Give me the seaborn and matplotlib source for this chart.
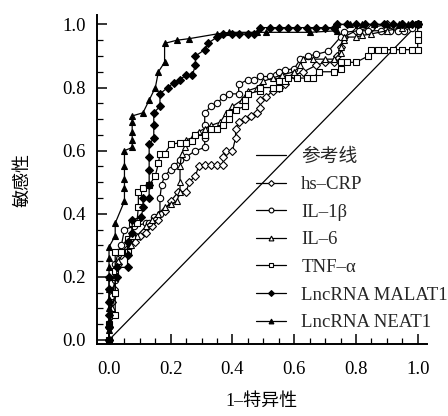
import pandas as pd
import seaborn as sns
import matplotlib.pyplot as plt
from matplotlib.ticker import MultipleLocator

# ---------------- datos ----------------
ref_x = [0.0, 1.0]
ref_y = [0.0, 1.0]

crp_x = [0, 0, 0.005, 0.01, 0.015, 0.02, 0.03, 0.04, 0.06, 0.085, 0.1, 0.12, 0.14, 0.16, 0.18, 0.2,
         0.225, 0.25, 0.26, 0.28, 0.29, 0.31, 0.33, 0.35, 0.37, 0.37, 0.38, 0.40, 0.41, 0.41, 0.42,
         0.44, 0.46, 0.48, 0.49, 0.49, 0.51, 0.53, 0.55, 0.57, 0.6, 0.63, 0.67, 0.70, 0.73, 0.74,
         0.75, 0.76, 0.8, 0.85, 0.9, 0.95, 1.0]
crp_y = [0, 0.04, 0.08, 0.12, 0.16, 0.2, 0.24, 0.27, 0.29, 0.31, 0.33, 0.34, 0.36, 0.38, 0.41, 0.44,
         0.47, 0.47, 0.5, 0.52, 0.55, 0.555, 0.555, 0.555, 0.555, 0.58, 0.6, 0.60, 0.64, 0.67, 0.69,
         0.70, 0.71, 0.72, 0.735, 0.76, 0.77, 0.79, 0.80, 0.81, 0.84, 0.85, 0.87, 0.88, 0.88, 0.90,
         0.93, 0.96, 0.98, 0.99, 1.0, 1.0, 1.0]

il1b_x = [0, 0, 0.005, 0.01, 0.02, 0.02, 0.03, 0.04, 0.05, 0.08, 0.12, 0.13, 0.145, 0.165, 0.165,
          0.17, 0.18, 0.2, 0.21, 0.23, 0.25, 0.28, 0.31, 0.31, 0.31, 0.31, 0.33, 0.35, 0.37, 0.39,
          0.42, 0.42, 0.45, 0.47, 0.49, 0.52, 0.54, 0.55, 0.57, 0.6, 0.62, 0.645, 0.67, 0.71, 0.75,
          0.76, 0.81, 0.84, 0.88, 0.91, 0.935, 0.955, 0.98, 1.0]
il1b_y = [0, 0.04, 0.09, 0.14, 0.19, 0.24, 0.28, 0.30, 0.35, 0.36, 0.37, 0.37, 0.39, 0.40, 0.45,
          0.49, 0.52, 0.54, 0.55, 0.57, 0.58, 0.60, 0.61, 0.64, 0.68, 0.72, 0.74, 0.75, 0.77, 0.78,
          0.78, 0.81, 0.825, 0.825, 0.835, 0.835, 0.84, 0.85, 0.855, 0.86, 0.89, 0.90, 0.905, 0.915, 0.96,
          0.975, 0.98, 0.98, 0.98, 0.98, 0.98, 0.98, 0.99, 1.0]

il6_x = [0, 0, 0.01, 0.02, 0.02, 0.03, 0.05, 0.07, 0.09, 0.12, 0.14, 0.16, 0.18, 0.2, 0.22, 0.23,
         0.23, 0.23, 0.235, 0.245, 0.25, 0.27, 0.29, 0.31, 0.33, 0.36, 0.38, 0.40, 0.43, 0.45, 0.48,
         0.50, 0.53, 0.56, 0.6, 0.62, 0.63, 0.66, 0.7, 0.73, 0.75, 0.75, 0.76, 0.76, 0.8, 0.82, 0.85,
         0.9, 0.95, 1.0]
il6_y = [0, 0.05, 0.1, 0.15, 0.2, 0.25, 0.28, 0.3, 0.33, 0.36, 0.38, 0.40, 0.42, 0.43, 0.44, 0.47,
         0.5, 0.55, 0.59, 0.61, 0.635, 0.64, 0.66, 0.67, 0.68, 0.69, 0.72, 0.74, 0.76, 0.79, 0.80,
         0.82, 0.83, 0.84, 0.85, 0.87, 0.89, 0.89, 0.89, 0.89, 0.91, 0.93, 0.95, 0.96, 0.96, 0.965, 0.97,
         0.98, 0.99, 1.0]

tnf_x = [0, 0, 0.02, 0.02, 0.02, 0.02, 0.04, 0.06, 0.06, 0.075, 0.075, 0.09, 0.095, 0.095, 0.11,
         0.13, 0.15, 0.16, 0.165, 0.18, 0.2, 0.23, 0.25, 0.27, 0.28, 0.31, 0.33, 0.35, 0.37, 0.39,
         0.39, 0.41, 0.44, 0.44, 0.45, 0.49, 0.49, 0.53, 0.55, 0.55, 0.57, 0.58, 0.61, 0.64, 0.66,
         0.68, 0.73, 0.75, 0.75, 0.77, 0.80, 0.84, 0.85, 0.87, 0.89, 0.92, 0.95, 0.98, 1.0, 1.0,
         1.0, 1.0]
tnf_y = [0, 0.05, 0.08, 0.15, 0.22, 0.28, 0.28, 0.28, 0.32, 0.33, 0.37, 0.37, 0.42, 0.47, 0.48,
         0.49, 0.52, 0.56, 0.59, 0.59, 0.62, 0.625, 0.625, 0.63, 0.65, 0.65, 0.67, 0.67, 0.68, 0.70,
         0.72, 0.73, 0.74, 0.76, 0.78, 0.79, 0.80, 0.80, 0.80, 0.82, 0.82, 0.83, 0.83, 0.83, 0.83,
         0.85, 0.85, 0.86, 0.88, 0.88, 0.88, 0.90, 0.92, 0.92, 0.92, 0.92, 0.92, 0.92, 0.92, 0.95,
         0.97, 1.0]

malat1_x = [0, 0, 0, 0, 0, 0, 0.025, 0.025, 0.06, 0.06, 0.06, 0.075, 0.075, 0.105, 0.11, 0.11, 0.13,
            0.13, 0.13, 0.13, 0.13, 0.145, 0.145, 0.145, 0.165, 0.165, 0.19, 0.21, 0.23, 0.25, 0.27,
            0.28, 0.28, 0.31, 0.32, 0.35, 0.37, 0.40, 0.42, 0.45, 0.47, 0.49, 0.52, 0.55, 0.58, 0.61,
            0.64, 0.67, 0.70, 0.73, 0.74, 0.77, 0.80, 0.83, 0.86, 0.89, 0.92, 0.95, 0.98, 1.0]
malat1_y = [0, 0.04, 0.08, 0.12, 0.16, 0.2, 0.2, 0.23, 0.23, 0.27, 0.31, 0.34, 0.38, 0.39, 0.42, 0.45,
            0.45, 0.49, 0.54, 0.58, 0.62, 0.64, 0.68, 0.72, 0.74, 0.78, 0.80, 0.815, 0.825, 0.84, 0.84,
            0.87, 0.90, 0.92, 0.94, 0.96, 0.97, 0.97, 0.97, 0.97, 0.97, 0.99, 0.99, 0.99, 0.99, 0.99,
            0.99, 0.99, 0.99, 0.99, 1.0, 1.0, 1.0, 1.0, 1.0, 1.0, 1.0, 1.0, 1.0, 1.0]

neat1_x = [0, 0, 0, 0, 0, 0, 0, 0, 0, 0, 0.02, 0.02, 0.05, 0.05, 0.05, 0.05, 0.05, 0.075, 0.075, 0.075,
           0.075, 0.075, 0.11, 0.13, 0.15, 0.16, 0.18, 0.18, 0.22, 0.26, 0.35, 0.39, 0.48, 0.51, 0.65,
           0.74, 0.74, 0.78, 0.82, 0.86, 0.9, 0.94, 0.97, 1.0]
neat1_y = [0, 0.03, 0.06, 0.1, 0.13, 0.16, 0.2, 0.23, 0.26, 0.295, 0.33, 0.37, 0.44, 0.48, 0.51, 0.55,
           0.60, 0.61, 0.635, 0.66, 0.69, 0.71, 0.72, 0.76, 0.80, 0.85, 0.88, 0.94, 0.95, 0.955, 0.97,
           0.975, 0.975, 0.975, 0.975, 0.98, 1.0, 1.0, 1.0, 1.0, 1.0, 1.0, 1.0, 1.0]

# ---------------- figura ----------------
sns.set_theme(style="ticks")
plt.rcParams["font.family"] = ["Liberation Serif", "Noto Sans CJK SC"]

fig = plt.figure(figsize=(4.48, 4.16), dpi=100)
ax = fig.add_axes([0.2165, 0.173, 0.7365, 0.791])

curvas = [
    ("参考线", ref_x, ref_y, None, "none"),
    ("hs–CRP", crp_x, crp_y, "D", "white"),
    ("IL–1β", il1b_x, il1b_y, "o", "white"),
    ("IL–6", il6_x, il6_y, "^", "white"),
    ("TNF–α", tnf_x, tnf_y, "s", "white"),
    ("LncRNA MALAT1", malat1_x, malat1_y, "D", "black"),
    ("LncRNA NEAT1", neat1_x, neat1_y, "^", "black"),
]

for nombre, xs, ys, marca, relleno in curvas:
    df = pd.DataFrame({"x": xs, "y": ys})
    sns.lineplot(
        data=df, x="x", y="y", ax=ax, sort=False, estimator=None,
        color="black", linewidth=0.9, label=nombre,
        marker=marca, markersize=4.6 if marca != "D" else 4.0,
        markerfacecolor=relleno, markeredgecolor="black", markeredgewidth=0.8,
    )

ax.set_xlim(-0.039, 1.03)
ax.set_ylim(-0.013, 1.03)
ax.xaxis.set_major_locator(MultipleLocator(0.2))
ax.yaxis.set_major_locator(MultipleLocator(0.2))
ax.xaxis.set_minor_locator(MultipleLocator(0.05))
ax.yaxis.set_minor_locator(MultipleLocator(0.05))
ax.xaxis.set_major_formatter(plt.FormatStrFormatter("%.1f"))
ax.yaxis.set_major_formatter(plt.FormatStrFormatter("%.1f"))

ax.tick_params(which="major", direction="in", length=7, width=1.1, color="black",
               labelsize=13.5, labelcolor="black")
ax.tick_params(which="minor", direction="in", length=4, width=0.9, color="black")
ax.tick_params(axis="x", which="major", pad=12)
ax.tick_params(axis="y", which="major", pad=8)

sns.despine(ax=ax)
for lado in ["left", "bottom"]:
    ax.spines[lado].set_linewidth(1.4)
    ax.spines[lado].set_color("black")

ax.set_xlabel("1–特异性", fontsize=13, labelpad=11, color="black")
ax.set_ylabel("敏感性", fontsize=13, labelpad=22, color="black")

ax.legend(
    loc="upper left", bbox_to_anchor=(0.46, 0.618), frameon=False,
    fontsize=13.5, handlelength=1.6, handletextpad=0.8, labelspacing=0.56,
    markerscale=0.75, borderaxespad=0,
)

plt.savefig("out.png", dpi=100)
plt.close()
